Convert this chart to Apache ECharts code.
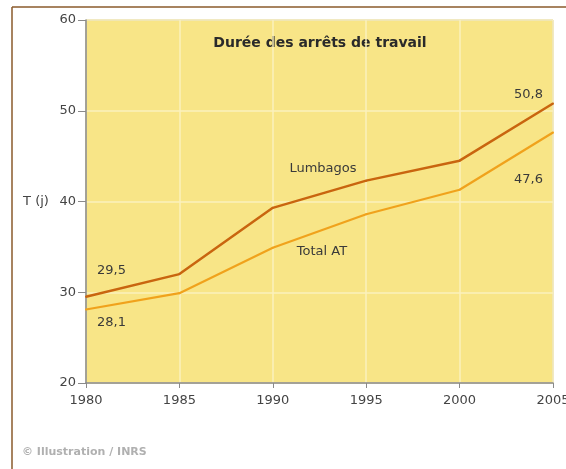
<!DOCTYPE html>
<html><head><meta charset="utf-8">
<script src="https://cdn.jsdelivr.net/npm/echarts@6/dist/echarts.min.js"></script>
<style>html,body{margin:0;padding:0;background:#fff}#c{width:566px;height:469px}</style>
</head><body><div id="c"></div>
<script>
const years = [1980, 1985, 1990, 1995, 2000, 2005];
const lumbagos = [29.5, 32.0, 39.3, 42.3, 44.5, 50.8];
const totalAT = [28.1, 29.9, 34.9, 38.6, 41.3, 47.6];
const yTicks = [20, 30, 40, 50, 60];

const fmt = v => String(v).replace('.', ',');
const labelStyle = {color:'#3a3a3a', fontFamily:'DejaVu Sans', fontSize:13};

function mkData(vals, labels){
  return vals.map((v,i)=>{
    const d = {value:[years[i], v]};
    if (labels[i]) d.label = Object.assign({show:true, formatter: fmt(v)}, labelStyle, labels[i]);
    return d;
  });
}

const chart = echarts.init(document.getElementById('c'), null, {renderer:'canvas'});
chart.setOption({
  animation:false,
  backgroundColor:'#fff',
  grid:{left:86, right:13, top:20, bottom:86, outerBoundsMode:'none', containLabel:false, show:true, backgroundColor:'#f8e587', borderColor:'#a8a8a8', borderWidth:1},
  xAxis:{type:'value', min:1980, max:2005, interval:5,
    axisLine:{lineStyle:{color:'#8a8a8a', width:1.5}},
    axisTick:{show:true, length:5, lineStyle:{color:'#8a8a8a'}},
    axisLabel:{color:'#444', fontFamily:'DejaVu Sans', fontSize:13, margin:11, formatter:v=>String(v)},
    splitLine:{show:true, lineStyle:{color:'#fbf0bd', width:1.5}}},
  yAxis:{type:'value', min:20, max:60, interval:10,
    axisLine:{show:true, lineStyle:{color:'#8a8a8a', width:1.5}},
    axisTick:{show:true, length:8, lineStyle:{color:'#8a8a8a'}},
    axisLabel:{color:'#444', fontFamily:'DejaVu Sans', fontSize:13, margin:10,
      formatter:v=> yTicks.includes(v) ? String(v) : ''},
    splitLine:{show:true, lineStyle:{color:'#fbf0bd', width:1.5}}},
  series:[
    {name:'Lumbagos', type:'line', symbol:'circle', symbolSize:2, showSymbol:true, showAllSymbol:true, z:3,
     itemStyle:{color:'#c9650f'},
     lineStyle:{color:'#c9650f', width:2.5},
     data: mkData(lumbagos, [{position:[12,-32]},null,null,null,null,{position:[-38,-14]}])},
    {name:'Total AT', type:'line', symbol:'circle', symbolSize:2, showSymbol:true, showAllSymbol:true, z:2,
     itemStyle:{color:'#f0a21c'},
     lineStyle:{color:'#f0a21c', width:2.2},
     data: mkData(totalAT, [{position:[12,8]},null,null,null,null,{position:[-38,42]}])}
  ],
  graphic:[
    {type:'line', shape:{x1:12, y1:7, x2:566, y2:7}, style:{stroke:'#8a5a2b', lineWidth:1.5}},
    {type:'line', shape:{x1:12, y1:7, x2:12, y2:469}, style:{stroke:'#8a5a2b', lineWidth:1.5}},
    {type:'text', style:{text:'Durée des arrêts de travail', x:320, y:43, align:'center', verticalAlign:'middle', font:'bold 14px "DejaVu Sans"', fill:'#2a2a2a'}},
    {type:'text', style:{text:'Lumbagos', x:323, y:169, align:'center', verticalAlign:'middle', font:'13px "DejaVu Sans"', fill:'#3a3a3a'}},
    {type:'text', style:{text:'Total AT', x:322, y:252, align:'center', verticalAlign:'middle', font:'13px "DejaVu Sans"', fill:'#3a3a3a'}},
    {type:'text', style:{text:'T (j)', x:36, y:202, align:'center', verticalAlign:'middle', font:'13px "DejaVu Sans"', fill:'#444'}},
    {type:'text', style:{text:'© Illustration / INRS', x:22, y:452, align:'left', verticalAlign:'middle', font:'bold 11px "DejaVu Sans"', fill:'#b0b0b0'}}
  ]
});
</script></body></html>
